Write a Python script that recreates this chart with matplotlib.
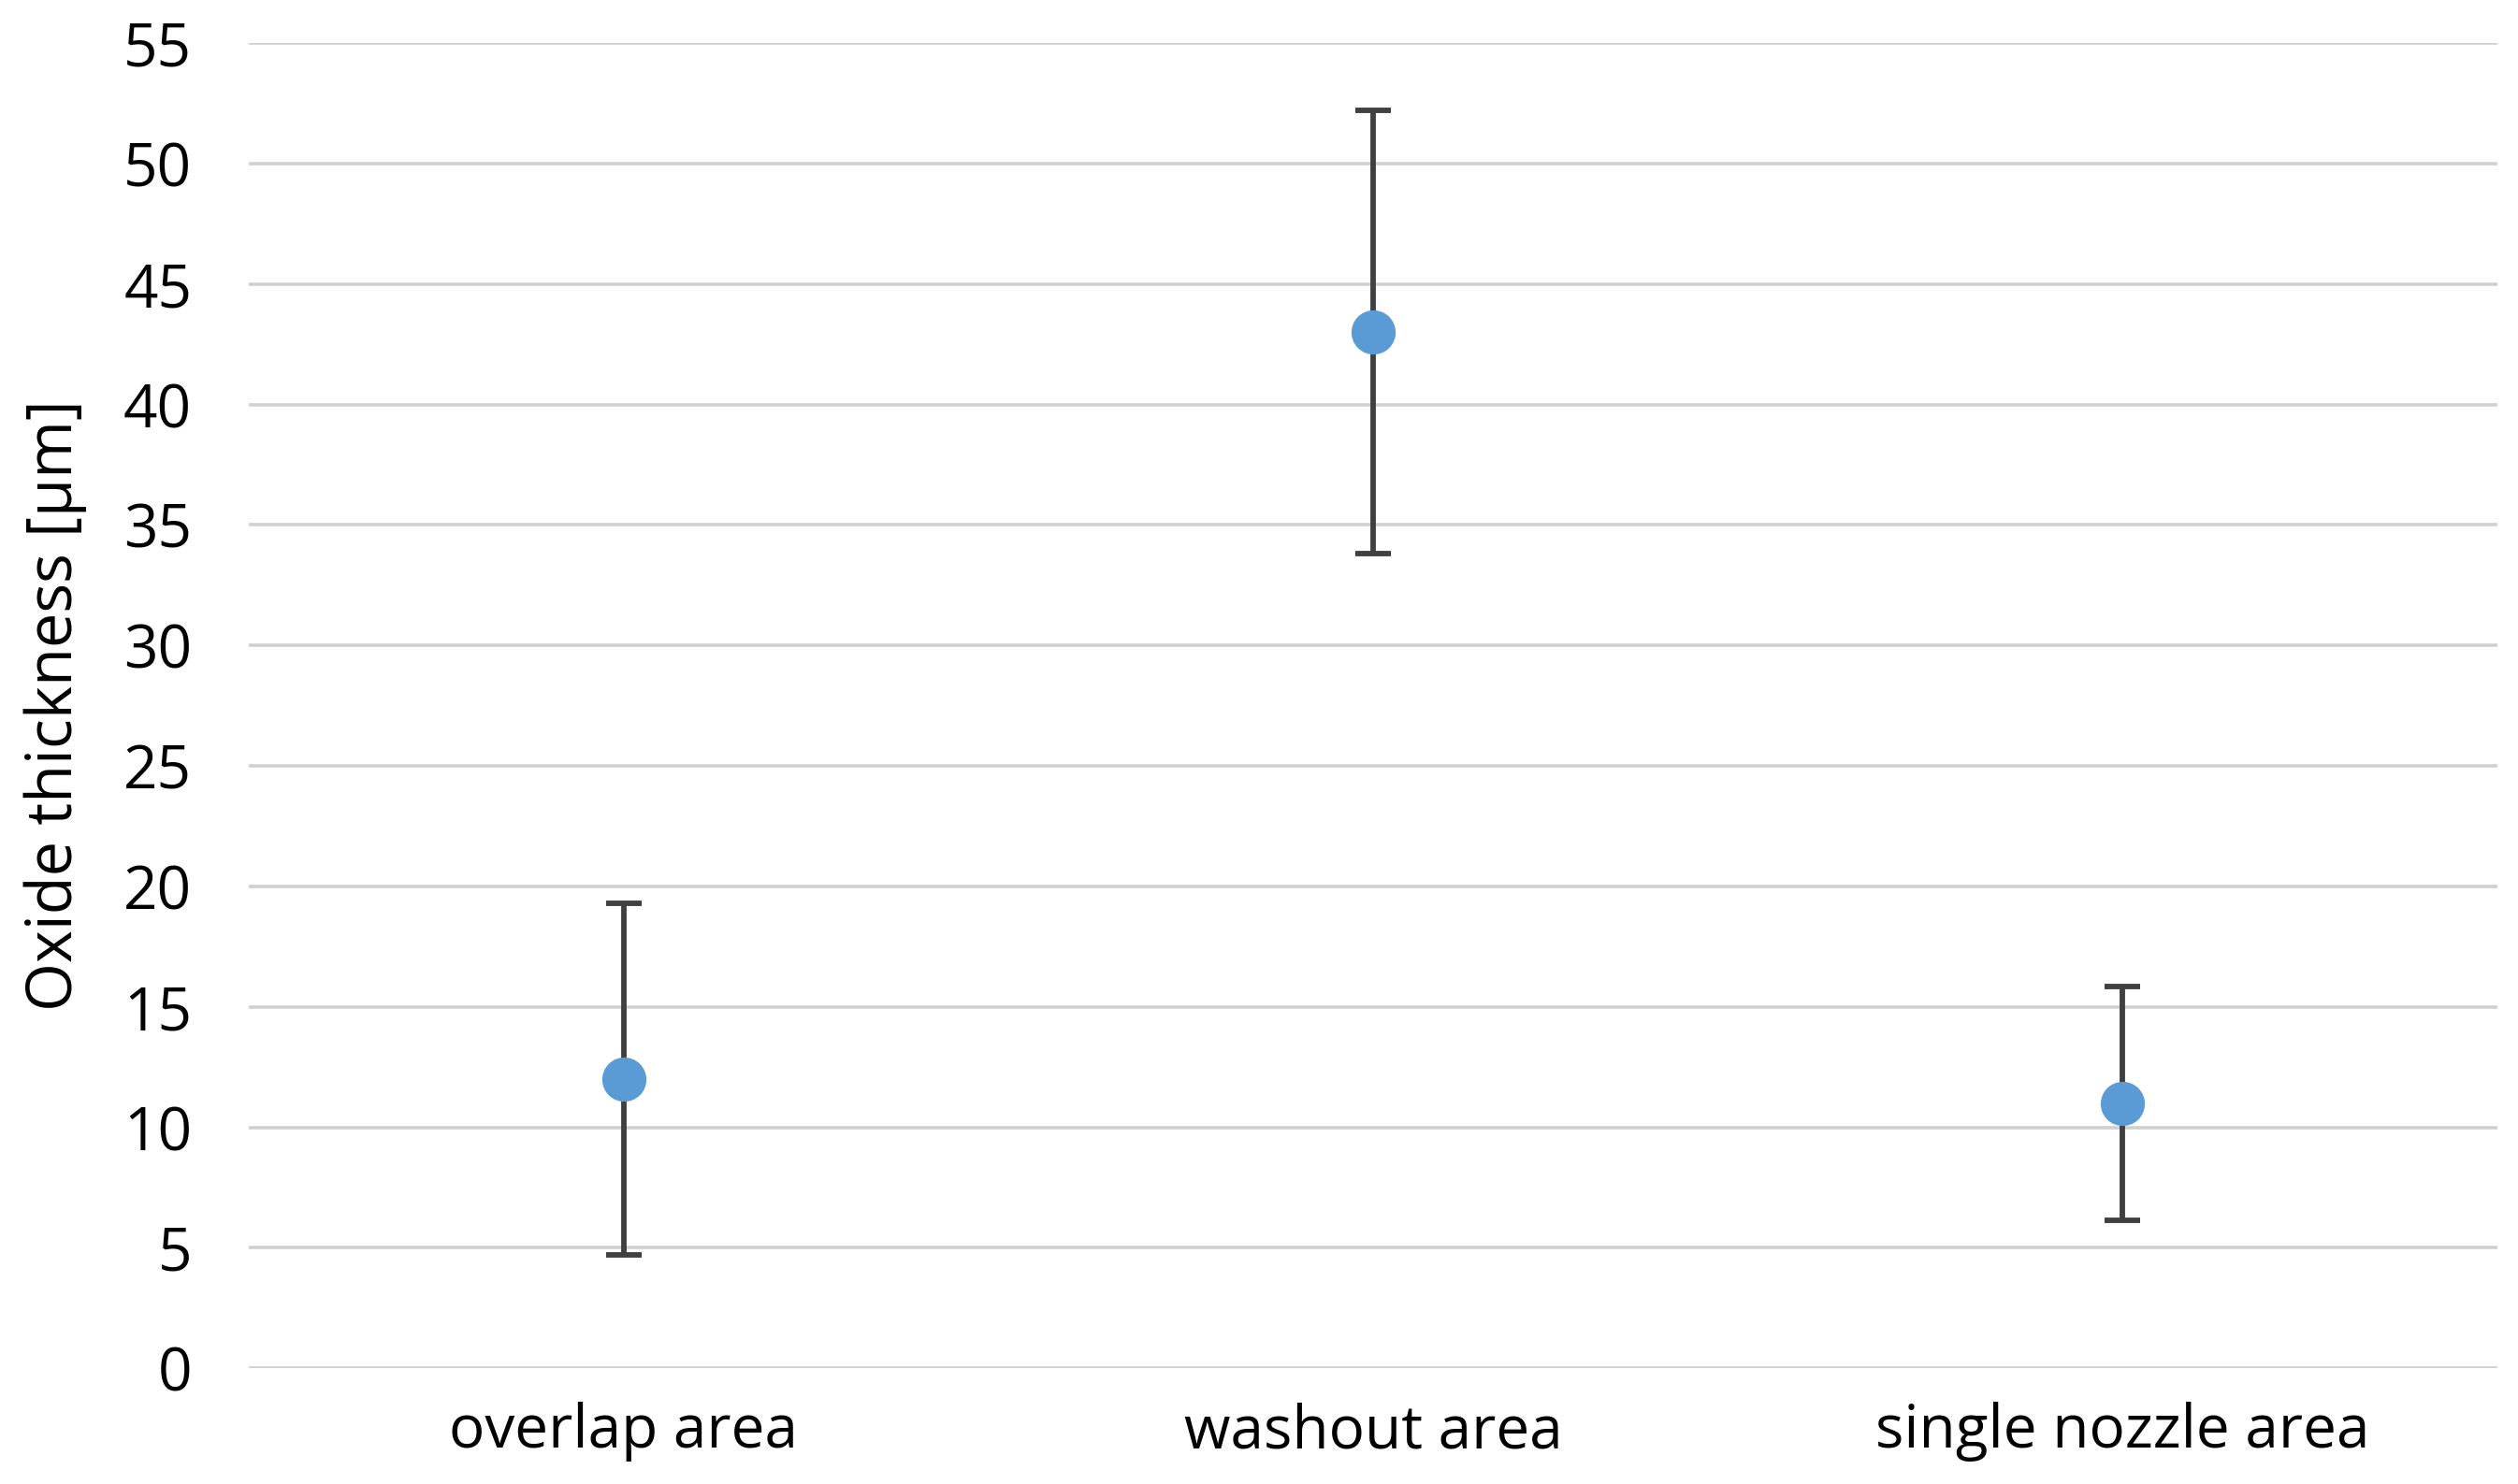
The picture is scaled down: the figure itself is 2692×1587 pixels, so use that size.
import matplotlib
matplotlib.use("Agg")
import matplotlib.pyplot as plt

categories = ["overlap area", "washout area", "single nozzle area"]
means = [12.0, 43.0, 11.0]
errors = [7.3, 9.2, 4.85]
yticks = [0, 5, 10, 15, 20, 25, 30, 35, 40, 45, 50, 55]

plt.rcParams['font.family'] = ['Open Sans', 'DejaVu Sans']

fig = plt.figure(figsize=(26.92, 15.87), dpi=100)
ax = fig.add_axes([0.0989, 0.078, 0.8928, 0.893])

x = list(range(len(categories)))
ax.errorbar(x, means, yerr=errors, fmt='none',
            ecolor='#404040', elinewidth=4.2, capsize=14, capthick=4.2, zorder=3)
ax.plot(x, means, 'o', color='#5B9BD5', markersize=33, zorder=4)

ax.set_xlim(-0.5, 2.5)
ax.set_ylim(0, 55)
ax.set_yticks(yticks)
ax.set_xticks(x)
ax.set_xticklabels(categories)
ax.grid(axis='y', color='#d0d0d0', linewidth=2.6, zorder=0)
ax.set_axisbelow(True)
for s in ax.spines.values():
    s.set_visible(False)
ax.tick_params(axis='both', length=0, labelsize=46, colors='#000000')
ax.tick_params(axis='y', pad=44)
ax.tick_params(axis='x', pad=26)
ax.set_ylabel("Oxide thickness [µm]", fontsize=48, labelpad=28)

fig.savefig("out.png", dpi=100, facecolor='white')
